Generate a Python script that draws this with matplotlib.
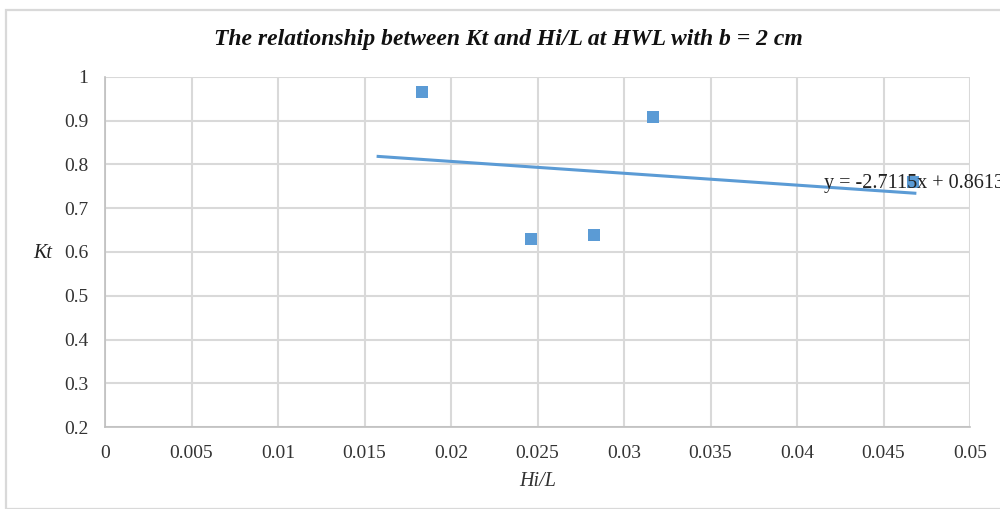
import numpy as np
import matplotlib
matplotlib.use("Agg")
import matplotlib.pyplot as plt
from matplotlib.patches import Rectangle

# Measured wave transmission data at HWL, b = 2 cm
hi_over_l = [0.01832, 0.0246, 0.02824, 0.03165, 0.0467]
kt = [0.9657, 0.630, 0.639, 0.9085, 0.761]

# Linear trendline (Kt = slope * Hi/L + intercept)
slope = -2.7115
intercept = 0.8613
trend_range = [0.0157, 0.0469]

x_ticks = [0, 0.005, 0.01, 0.015, 0.02, 0.025, 0.03, 0.035, 0.04, 0.045, 0.05]
x_tick_labels = ["0", "0.005", "0.01", "0.015", "0.02", "0.025", "0.03", "0.035", "0.04", "0.045", "0.05"]
y_ticks = [0.2, 0.3, 0.4, 0.5, 0.6, 0.7, 0.8, 0.9, 1.0]
y_tick_labels = ["0.2", "0.3", "0.4", "0.5", "0.6", "0.7", "0.8", "0.9", "1"]

blue = "#5b9bd5"
grid_grey = "#d9d9d9"
serif = ["Liberation Serif", "DejaVu Serif"]

W, H = 1000, 509
fig = plt.figure(figsize=(W / 100, H / 100), dpi=100)

# Chart-area frame
fig.patches.append(Rectangle((5.5 / W, 0), 1.0, 1 - 9.5 / H, transform=fig.transFigure,
                             fill=False, edgecolor=grid_grey, linewidth=1.6, zorder=0))

left, right, top, bottom = 105, 970, 77, 427
ax = fig.add_axes([left / W, 1 - bottom / H, (right - left) / W, (bottom - top) / H])

ax.set_xlim(0, 0.05)
ax.set_ylim(0.2, 1.0)
ax.set_xticks(x_ticks)
ax.set_xticklabels(x_tick_labels)
ax.set_yticks(y_ticks)
ax.set_yticklabels(y_tick_labels)
ax.grid(True, color=grid_grey, linewidth=1.5)
ax.set_axisbelow(True)
for side in ["top", "right"]:
    ax.spines[side].set_visible(False)
for side in ["left", "bottom"]:
    ax.spines[side].set_color("#bfbfbf")
    ax.spines[side].set_linewidth(1.2)
ax.tick_params(length=0, labelsize=14)
ax.tick_params(axis="y", pad=12)
ax.tick_params(axis="x", pad=13)
for lbl in ax.get_xticklabels() + ax.get_yticklabels():
    lbl.set_family(serif)
    lbl.set_color("#333333")

ax.scatter(hi_over_l, kt, marker="s", s=70, color=blue, zorder=3, linewidths=0)

tx = np.array(trend_range)
ax.plot(tx, slope * tx + intercept, color=blue, linewidth=2.2, zorder=2,
        solid_capstyle="butt")

# Trendline equation, running off the right edge of the chart area
ax.text(0.04155, 0.7555, f"y = {slope}x + {intercept}", family=serif, fontsize=14.5,
        color="#222222", va="center", ha="left", clip_on=False, zorder=4)

fig.text(0.508, 1 - 40 / H, "The relationship between Kt and Hi/L at HWL with b = 2 cm",
         family=serif, fontsize=17, fontweight="bold", fontstyle="italic",
         ha="center", va="center", color="#111111")

ax.set_xlabel("Hi/L", family=serif, fontstyle="italic", fontsize=14.5, color="#333333",
              labelpad=7)
fig.text(43 / W, 1 - 254 / H, "Kt", family=serif, fontstyle="italic", fontsize=14.5,
         ha="center", va="center", color="#222222")

fig.savefig("out.png", dpi=100)
